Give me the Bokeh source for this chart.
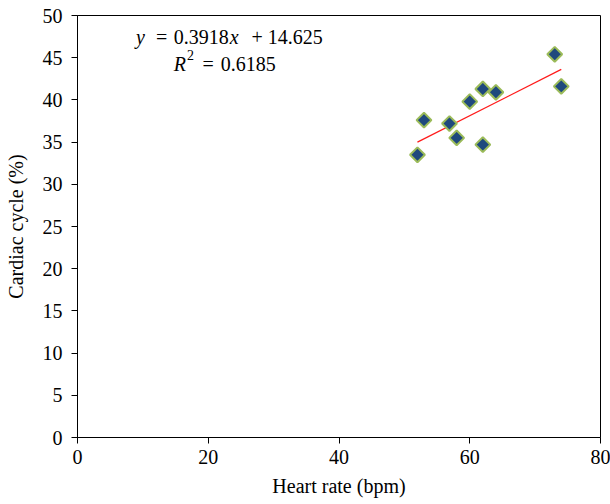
import numpy as np
from bokeh.plotting import figure
from bokeh.models import Range1d, Label, FixedTicker
from bokeh.embed import file_html
from bokeh.resources import INLINE

# Data
heart_rate = [52, 53, 56.9, 58, 60, 62, 62, 64, 73, 74]
cardiac_cycle = [33.5, 37.6, 37.2, 35.5, 39.8, 41.3, 34.7, 40.9, 45.4, 41.6]
slope = 0.3918
intercept = 14.625
r_squared = 0.6185
x_ticks = [0, 20, 40, 60, 80]
y_ticks = [0, 5, 10, 15, 20, 25, 30, 35, 40, 45, 50]

FONT = "Liberation Serif"
FS = "20px"

p = figure(width=610, height=504, output_backend="svg", toolbar_location=None,
           x_range=Range1d(0, 80), y_range=Range1d(0, 50),
           min_border_left=77, min_border_right=10, min_border_top=15, min_border_bottom=67)
p.background_fill_color = "white"
p.border_fill_color = "white"
p.outline_line_color = "black"
p.outline_line_width = 1
p.xgrid.visible = False
p.ygrid.visible = False

for ax in (p.xaxis[0], p.yaxis[0]):
    ax.axis_line_color = "black"
    ax.major_tick_line_color = "black"
    ax.major_tick_in = 0
    ax.major_tick_out = 6
    ax.minor_tick_line_color = None
    ax.major_label_text_font = FONT
    ax.major_label_text_font_size = FS
    ax.major_label_text_color = "black"
    ax.axis_label_text_font = FONT
    ax.axis_label_text_font_size = FS
    ax.axis_label_text_font_style = "normal"
    ax.axis_label_text_color = "black"

p.xaxis.ticker = FixedTicker(ticks=x_ticks)
p.yaxis.ticker = FixedTicker(ticks=y_ticks)
p.xaxis.axis_label = "Heart rate (bpm)"
p.yaxis.axis_label = "Cardiac cycle (%)"
p.xaxis.major_label_standoff = 6
p.yaxis.major_label_standoff = 9
p.xaxis.axis_label_standoff = 8
p.yaxis.axis_label_standoff = 13

# trend line over the data range
xs = np.array([min(heart_rate), max(heart_rate)])
ys = slope * xs + intercept
p.line(xs, ys, line_color="#ff1a1a", line_width=1.2)

# scatter points (diamonds)
p.scatter(heart_rate, cardiac_cycle, marker="square", angle=np.pi / 4,
          size=10.5, fill_color="#1F497D", line_color="#9BBB59", line_width=2)

# equation text
def lab(x, y, text, style="normal", size="20px"):
    p.add_layout(Label(x=x, y=y, text=text, text_font=FONT, text_font_size=size,
                       text_font_style=style, text_color="black",
                       text_align="left", text_baseline="alphabetic"))

y1 = 47.43
lab(8.93, y1, "y", "italic")
lab(11.99, y1, "=")
lab(14.74, y1, "0.3918")
lab(23.3, y1, "x", "italic")
lab(26.6, y1, "+")
lab(29.1, y1, "14.625")

y2 = 44.28
lab(14.74, y2, "R", "italic")
lab(16.75, 45.3, "2", "normal", "14px")
lab(19.13, y2, "=")
lab(21.93, y2, f"{r_squared}")

open("out.html", "w").write(file_html(p, INLINE))
